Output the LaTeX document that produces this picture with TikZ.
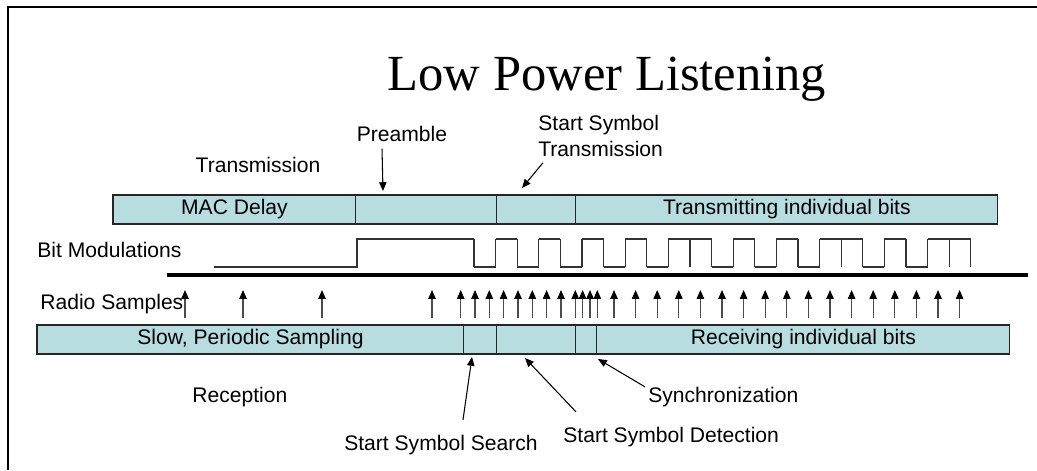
\documentclass[tikz,border=0pt]{standalone}
\usepackage{fontspec}
\setmainfont{Liberation Sans}
\newfontfamily\titlefont{Liberation Serif}
\usepackage{tikz}
\usetikzlibrary{arrows.meta,positioning}

\begin{document}
\begin{tikzpicture}[x=0.02cm,y=-0.02cm,
    seg/.style={draw=black!85, fill=barcol, line width=0.6pt, minimum height=0.58cm,
      inner sep=0pt, outer sep=0pt, font=\fontsize{12}{14.4}\selectfont},
    lbl/.style={inner sep=0pt, font=\fontsize{12}{14.4}\selectfont},
    callout/.style={-{Triangle[length=5pt,width=4.2pt]}, line width=0.6pt},
    sample/.style={-{Triangle[length=5pt,width=4.2pt,black]}, line width=0.6pt, black!70},
    wave/.style={line width=0.6pt, black!80}]
    \definecolor{barcol}{RGB}{183,221,225}   % celeste

    \useasboundingbox (0,0) rectangle (1037,470);
    \draw[line width=1.1pt] (8,470) -- (8,7) -- (1037,7);

    \node[font=\titlefont\fontsize{28.8}{34}\selectfont, anchor=base, inner sep=0pt] (title) at (607,90) {Low Power Listening};

    % transmission bar
    \node[seg, minimum width=4.86cm, anchor=west] (mac) at (113,209.5) {MAC Delay};
    \node[seg, minimum width=2.82cm, right=0pt of mac] (pre) {};
    \node[seg, minimum width=1.58cm, right=0pt of pre] (sst) {};
    \node[seg, minimum width=8.44cm, right=0pt of sst] (txbits) {Transmitting individual bits};

    % reception bar
    \node[seg, minimum width=8.54cm, anchor=west] (slow) at (37,339.5) {Slow, Periodic Sampling};
    \node[seg, minimum width=0.66cm, right=0pt of slow] (search) {};
    \node[seg, minimum width=1.58cm, right=0pt of search] (detect) {};
    \node[seg, minimum width=0.42cm, right=0pt of detect] (sync) {};
    \node[seg, minimum width=8.26cm, right=0pt of sync] (rxbits) {Receiving individual bits};

    \node[lbl, anchor=base] (tx) at (258,172) {Transmission};
    \node[lbl, anchor=base] (preamble) at (402,141) {Preamble};
    \node[lbl, anchor=west, align=left] (sstlbl) at (538,136) {Start Symbol\\Transmission};
    \node[lbl, anchor=base west] (bitmod) at (37,257.5) {Bit Modulations};
    \node[lbl, anchor=base west] (radio) at (40,309.5) {Radio Samples};
    \node[lbl, anchor=base west] (rx) at (192,402) {Reception};
    \node[lbl, anchor=base east] (searchlbl) at (538,450.5) {Start Symbol Search};
    \node[lbl, anchor=base west] (detectlbl) at (563,442.5) {Start Symbol Detection};
    \node[lbl, anchor=base west] (synclbl) at (648,402.5) {Synchronization};

    \coordinate (preTip) at (383,191);
    \coordinate (sstTip) at (522,188);
    \coordinate (searchTip) at (472,357);
    \coordinate (detectTip) at (525,358);
    \coordinate (syncTip) at (598,359);

    \draw[callout] ([shift={(-20,7)}]preamble.south) -- (preTip);
    \draw[callout] ([shift={(5,6)}]sstlbl.south west) -- (sstTip);
    \draw[callout] ([shift={(22,-15)}]searchlbl.north) -- (searchTip);
    \draw[callout] ([shift={(13,-15)}]detectlbl.north west) -- (detectTip);
    \draw[callout] ([shift={(-3,0)}]synclbl.north west) -- (syncTip);

    % bit modulations
    \draw[wave] (214,267) -- (357,267) -- (357,239) -- (474,239);
    \foreach \k in {0,...,23}
      \draw[wave] ({474+21.6*\k},239) -- ({474+21.6*\k},267);
    \foreach \k/\lv in {0/267,1/239,2/267,3/239,4/267,5/239,6/267,7/239,8/267,9/239,10/239,11/267,
                        12/239,13/267,14/239,15/267,16/239,17/239,18/267,19/239,20/267,21/239,22/239}
      \draw[wave] ({474+21.6*\k},\lv) -- ({474+21.6*(\k+1)},\lv);

    \draw[line width=2.5pt] (167,275) -- (1028,275);

    % radio samples
    \foreach \x in {185,243,322,432,460.7,475,489.3,503.6,518,532.3,546.6,561,575.3,582.6,590,597.3}
      \draw[sample] (\x,318) -- (\x,290);
    \foreach \i in {0,...,16}
      \draw[sample] ({614+21.6*\i},318) -- ({614+21.6*\i},290);
\end{tikzpicture}
\end{document}
